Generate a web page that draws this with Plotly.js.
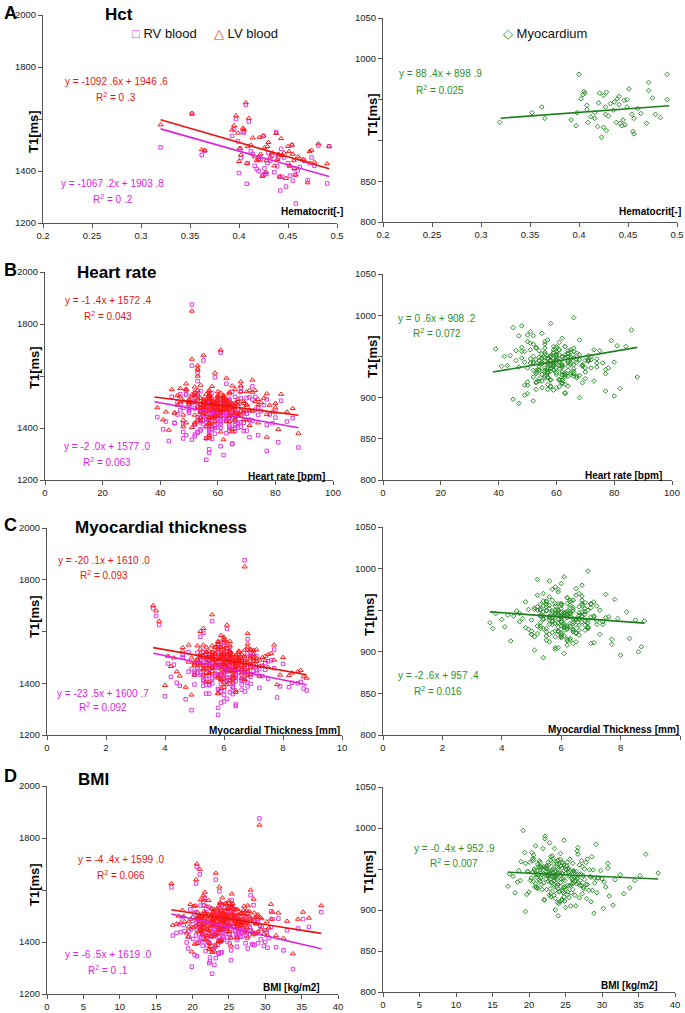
<!DOCTYPE html>
<html>
<head>
<meta charset="utf-8">
<script src="https://cdn.plot.ly/plotly-3.0.1.min.js"></script>
<style>
  html,body{margin:0;padding:0;background:#fff;}
  #chart{width:685px;height:1013px;}
</style>
</head>
<body>
<div id="chart"></div>
<script>
// ---------------- DATA ----------------
// Panel A (Hct) — blood T1 per subject
const hctX = [0.320,0.395,0.352,0.362,0.365,0.393,0.397,0.399,0.400,0.401,
  0.402,0.404,0.405,0.407,0.408,0.409,0.410,0.412,0.414,0.416,
  0.418,0.420,0.421,0.422,0.424,0.425,0.426,0.427,0.428,0.429,
  0.430,0.432,0.434,0.436,0.438,0.439,0.440,0.441,0.442,0.443,
  0.444,0.446,0.448,0.450,0.451,0.452,0.454,0.455,0.456,0.457,
  0.458,0.460,0.462,0.466,0.470,0.472,0.474,0.477,0.481,0.490,0.492];
const hctRV = [1491,1560,1620,1462,1478,1535,1600,1514,1392,1484,
  1450,1552,1548,1654,1351,1430,1590,1475,1465,1420,
  1408,1400,1455,1442,1385,1535,1410,1388,1390,1430,
  1470,1440,1460,1395,1550,1418,1452,1378,1325,1485,
  1378,1452,1340,1430,1420,1382,1500,1362,1410,1385,
  1275,1402,1415,1440,1365,1430,1452,1420,1498,1352,1495];
const hctLV = [1578,1575,1622,1482,1479,1558,1613,1546,1437,1488,
  1462,1565,1560,1663,1430,1494,1603,1500,1528,1455,
  1440,1445,1530,1465,1380,1535,1490,1395,1440,1495,
  1510,1455,1470,1420,1545,1445,1465,1462,1378,1525,
  1460,1470,1372,1495,1475,1420,1500,1465,1440,1410,
  1385,1455,1448,1445,1355,1475,1480,1435,1505,1428,1495];
// Panel A — myocardium
const hctMyoX = [0.319,0.352,0.362,0.365,0.392,0.397,0.400,0.398,0.402,0.404,
  0.406,0.408,0.408,0.409,0.412,0.416,0.419,0.420,0.421,0.423,
  0.425,0.425,0.427,0.427,0.428,0.428,0.435,0.436,0.438,0.439,
  0.441,0.442,0.444,0.446,0.449,0.451,0.449,0.454,0.455,0.456,
  0.460,0.469,0.471,0.471,0.475,0.478,0.490,0.490,
  0.405,0.430,0.445,0.447,0.456,0.441,0.432,0.416,0.463,0.483];
const hctMyo = [922,934,941,927,925,918,981,934,951,956,
  958,943,938,922,929,934,917,946,958,904,
  955,916,932,941,959,912,937,947,922,951,
  954,921,918,949,950,963,941,932,911,927,
  939,921,961,971,952,932,981,950,
  960,930,925,919,908,944,945,927,933,928];

// Panels B–D — the same subjects: T1 of RV blood, LV blood, myocardium
const rvT1 = [1462,1398,1515,1440,1480,1372,1530,1455,1420,1495,
  1350,1470,1445,1560,1410,1488,1435,1505,1390,1465,
  1520,1428,1475,1338,1452,1610,1418,1490,1460,1382,
  1500,1445,1405,1542,1468,1430,1312,1478,1512,1448,
  1395,1485,1458,1425,1580,1440,1472,1365,1498,1436,
  1875,1415,1462,1528,1388,1476,1450,1402,1640,1458,
  1433,1492,1325,1468,1510,1422,1380,1485,1448,1555,
  1472,1408,1438,1296,1502,1462,1420,1690,1455,1398,
  1482,1428,1518,1358,1466,1442,1500,1412,1278,1478,
  1450,1535,1392,1470,1425,1488,1345,1460,1415,1595,
  1438,1506,1472,1385,1455,1430,1520,1368,1490,1445,
  1410,1465,1625,1435,1480,1402,1458,1330,1512,1428,
  1470,1395,1448,1540,1418,1485,1440,1305,1462,1500,
  1425,1478,1360,1452,1570,1432,1468,1388,1495,1442,
  1455,1412,1488,1375,1436,1520,1400,1460,1660,1430,
  1448,1502,1415,1470,1388,1525,1460,1432,1495,1410,
  1478,1355,1442,1515,1465,1400,1488,1452,1540,1425,
  1395,1468,1508,1438,1372,1482,1455,1420,1500,1462,
  1530,1445,1405,1475,1490,1368,1458,1515,1435,1480,
  1412,1492,1450,1340,1472,1428,1505,1445,1390,1468,
  1485,1422,1462,1535,1400,1455,1318,1478,1442,1510,
  1458,1385,1498,1430,1468,1545,1415,1450,1485,1378,
  1440,1520,1402,1465,1432,1488,1460,1395,1472,1512,
  1375,1452,1480,1418,1505,1440,1468,1360,1495,1435,
  1465,1408,1438,1492,1456,1382,1518,1445,1422,1475];
const lvT1 = [1490,1435,1540,1478,1495,1420,1548,1498,1450,1520,
  1392,1505,1480,1585,1455,1510,1470,1530,1428,1490,
  1545,1470,1500,1385,1488,1625,1462,1512,1495,1418,
  1525,1482,1450,1565,1500,1468,1365,1505,1538,1478,
  1432,1510,1490,1462,1600,1478,1498,1410,1525,1470,
  1850,1455,1495,1550,1425,1505,1488,1440,1665,1490,
  1470,1520,1380,1500,1538,1460,1425,1512,1482,1578,
  1500,1448,1475,1355,1528,1495,1458,1700,1490,1440,
  1510,1465,1545,1405,1498,1478,1525,1452,1360,1505,
  1485,1560,1438,1502,1462,1515,1395,1492,1455,1612,
  1475,1532,1505,1430,1488,1468,1548,1415,1518,1480,
  1450,1498,1640,1472,1510,1445,1492,1385,1540,1465,
  1502,1440,1485,1562,1458,1512,1478,1362,1495,1528,
  1465,1508,1405,1488,1592,1470,1500,1432,1522,1480,
  1490,1450,1515,1420,1472,1548,1445,1495,1680,1468,
  1480,1525,1450,1505,1430,1545,1492,1470,1518,1455,
  1505,1402,1478,1540,1490,1445,1512,1488,1562,1468,
  1440,1495,1530,1470,1420,1508,1490,1462,1525,1495,
  1552,1478,1448,1500,1515,1415,1490,1538,1472,1510,
  1455,1515,1488,1395,1500,1465,1530,1482,1432,1498,
  1510,1465,1495,1558,1445,1488,1372,1505,1478,1532,
  1490,1430,1522,1468,1495,1570,1458,1485,1512,1425,
  1478,1545,1445,1498,1470,1512,1492,1440,1500,1535,
  1420,1488,1505,1460,1528,1475,1495,1405,1520,1470,
  1492,1452,1475,1515,1488,1428,1540,1480,1462,1502];
const myoT1 = [933,997,945,922,965,937,915,951,924,942,
  939,956,920,946,935,976,941,911,949,930,
  958,943,896,940,954,929,969,937,918,947,
  932,960,900,941,921,950,934,987,944,926,
  938,951,909,962,931,942,913,946,957,936,
  980,928,943,903,953,930,947,916,966,939,
  949,893,925,958,936,945,906,961,932,952,
  919,940,982,927,942,956,898,935,923,948,
  972,937,951,914,928,959,946,908,955,933,
  942,990,924,938,950,917,963,941,926,944,
  934,954,912,948,936,978,929,943,949,921,
  939,957,946,905,931,943,968,922,937,950,
  920,939,953,927,985,941,902,947,930,958,
  944,915,960,936,952,925,975,940,948,910,
  955,933,942,970,918,951,938,962,928,945,
  941,928,956,935,948,919,962,944,931,950,
  925,947,938,970,933,952,910,945,958,936,
  949,932,918,960,943,927,953,939,965,921,
  937,955,944,912,950,930,946,975,928,942,
  958,923,940,947,905,953,936,962,931,948,
  933,946,967,925,942,914,951,938,957,929,
  944,960,930,949,922,956,940,913,947,934,
  926,941,952,936,968,931,945,920,954,939,
  950,916,943,958,935,947,928,961,940,924,
  939,948,921,944,957,933,950,926,943,962];
const heartRate = [59,66,70,61,56,74,49,58,67,51,
  43,60,55,72,66,50,57,82,54,63,
  73,61,52,65,59,53,79,62,69,57,
  57,66,68,54,62,58,77,48,64,56,
  41,67,59,84,53,65,58,71,46,60,
  51,55,80,49,64,60,74,57,51,62,
  65,47,88,59,72,54,63,53,58,68,
  50,59,86,62,52,66,45,61,70,57,
  62,54,71,58,63,39,60,77,56,64,
  64,58,57,69,42,62,81,55,67,59,
  54,64,60,48,70,55,66,52,62,58,
  59,75,53,63,56,67,50,61,57,72,
  73,58,55,68,45,60,80,57,65,51,
  61,50,56,78,63,57,47,69,60,53,
  65,52,76,57,62,44,64,59,55,71,
  55,62,48,58,66,53,60,71,57,64,
  63,51,59,68,54,61,57,46,65,58,
  58,66,53,60,49,63,56,69,52,61,
  47,59,64,55,62,57,67,52,60,74,
  61,54,58,65,50,60,56,63,70,55,
  56,68,61,52,59,64,57,62,54,77,
  60,53,57,63,58,49,66,61,55,59,
  64,57,60,50,56,62,58,54,67,61,
  52,63,55,61,57,59,65,48,62,56,
  59,56,62,58,64,53,60,66,57,63];
const thickness = [5.7,6.9,6.8,5.2,6.2,8.8,7.7,4.9,6.4,5.6,
  4.0,6.7,6.0,5.9,5.3,6.5,5.8,7.1,4.5,6.1,
  6.2,5.4,8.0,4.7,6.6,6.1,7.5,5.7,5.1,6.3,
  6.5,4.8,8.6,6.0,7.3,5.5,6.4,5.2,5.9,6.8,
  5.0,5.9,7.7,6.4,5.2,6.7,4.3,6.2,7.0,5.7,
  6.7,5.3,7.1,5.8,6.3,4.1,6.1,8.3,5.6,6.5,
  6.4,5.4,5.9,7.0,4.6,6.2,8.7,5.5,6.8,6.0,
  5.5,6.4,6.0,4.9,7.0,5.6,6.1,3.6,6.5,5.9,
  5.9,7.2,5.1,6.3,5.4,6.8,4.6,6.2,5.8,7.4,
  7.1,6.1,5.5,6.9,6.9,6.0,7.8,5.7,6.6,5.3,
  6.3,5.2,5.6,8.2,6.4,5.8,4.8,6.7,6.2,5.0,
  6.6,5.3,3.8,5.9,6.1,4.4,6.5,6.0,5.7,7.3,
  6.0,5.4,7.0,6.2,5.6,7.5,5.1,5.8,6.9,6.7,
  4.2,6.2,5.5,7.4,6.8,5.0,5.9,7.9,5.4,6.4,
  7.2,6.1,7.6,6.6,6.0,5.3,8.5,6.3,3.7,5.8,
  6.2,5.5,6.3,5.9,6.8,6.1,5.7,6.6,6.0,5.3,
  5.9,6.0,6.5,5.4,6.1,5.6,7.0,6.3,5.8,6.7,
  5.5,6.6,5.8,7.1,6.0,6.4,5.1,5.9,6.2,5.6,
  6.8,5.4,6.1,6.5,5.2,5.9,6.3,5.7,6.9,6.0,
  5.9,5.7,6.6,6.1,5.8,6.4,6.0,6.7,5.3,6.2,
  5.6,6.1,6.7,5.8,6.3,5.5,6.4,5.6,6.0,6.9,
  6.1,6.3,6.2,5.7,6.5,6.0,5.4,6.2,6.6,5.8,
  6.4,5.6,6.8,6.0,5.2,6.3,5.8,6.6,5.5,6.1,
  5.8,6.3,5.3,6.0,6.9,5.7,6.2,5.4,6.5,5.9,
  6.0,6.7,5.0,6.2,5.5,7.2,5.9,6.1,5.6,6.4];
const bmi = [26.1,19.2,37.7,24.1,28.6,22.9,25.5,22.4,23.6,27.4,
  20.3,23.8,33.0,25.4,21.5,26.7,17.8,24.9,28.3,23.4,
  24.6,21.8,28.9,23.2,25.2,17.1,24.3,31.8,22.8,26.1,
  25.9,20.6,23.6,28.4,18.1,25.0,23.0,22.2,27.1,24.0,
  22.3,25.4,23.9,20.5,28.0,22.6,24.5,21.8,26.0,23.5,
  29.2,30.5,21.2,25.0,22.0,27.2,19.8,24.8,23.2,29.5,
  28.8,24.0,22.4,27.8,20.2,24.2,31.5,23.0,26.5,21.5,
  25.2,21.0,22.8,33.8,25.6,23.4,19.5,20.6,24.6,20.8,
  26.6,21.4,30.8,23.6,24.9,18.9,26.2,24.1,22.7,29.0,
  24.3,22.2,28.2,24.7,22.5,31.0,20.6,23.1,27.5,23.7,
  18.4,24.4,22.1,29.8,27.0,20.9,23.8,32.5,21.6,25.8,
  29.4,24.6,20.5,26.4,24.0,21.3,36.0,25.3,27.6,23.3,
  23.0,29.0,27.3,21.1,24.8,23.7,30.2,19.9,25.7,22.6,
  17.3,26.9,23.9,34.5,21.7,26.0,23.5,28.5,18.6,24.2,
  24.8,22.0,35.2,19.4,26.3,24.5,30.0,23.3,21.0,25.1,
  22.5,24.8,21.2,26.3,23.1,19.7,25.6,22.9,27.8,24.0,
  21.8,23.6,25.9,20.4,24.3,22.2,28.5,23.9,21.5,26.0,
  25.1,20.9,23.4,27.2,22.6,24.7,21.3,26.6,23.0,29.3,
  23.8,26.9,22.0,24.5,20.7,25.3,23.3,21.9,27.5,22.8,
  20.1,24.2,26.4,22.4,25.7,21.6,24.9,28.0,23.5,21.1,
  26.8,22.7,20.6,25.0,23.7,27.9,22.3,24.4,19.5,25.5,
  24.6,21.4,27.0,23.2,20.0,24.1,26.2,22.1,25.8,30.3,
  22.9,25.4,23.9,18.8,26.7,21.7,24.5,27.3,22.4,23.6,
  27.6,23.0,21.0,25.2,22.7,26.5,20.8,24.0,23.4,28.7,
  21.6,26.1,24.7,22.8,30.8,23.1,25.3,21.2,26.9,24.3];

// Regression lines (end points)
const hctFitX = [0.32, 0.492];   const hctLvFit = [1597, 1409]; const hctRvFit = [1562, 1379]; const hctMyoFit = [927.2, 942.4];
const hrFitX = [38, 88];         const hrLvFit = [1519, 1449];  const hrRvFit = [1501, 1401];  const hrMyoFit = [931, 961];
const thFitX = [3.6, 8.8];       const thLvFit = [1537.6, 1433]; const thRvFit = [1516, 1394]; const thMyoFit = [948, 934.5];
const bmiFitX = [17.1, 37.7];    const bmiLvFit = [1523.8, 1433.1]; const bmiRvFit = [1507.9, 1374]; const bmiMyoFit = [946.1, 937.8];

// Text
const panelLetters = ['A','B','C','D'];
const panelTitles = ['Hct','Heart rate','Myocardial thickness','BMI'];
const xTitles = ['Hematocrit[-]','Heart rate [bpm]','Myocardial Thickness [mm]','BMI [kg/m2]'];
const lvEq = ['y = -1092 .6x + 1946 .6','y = -1 .4x + 1572 .4','y = -20 .1x + 1610 .0','y = -4 .4x + 1599 .0'];
const lvR2 = ['0 .3','0.043','0.093','0.066'];
const rvEq = ['y = -1067 .2x + 1903 .8','y = -2 .0x + 1577 .0','y = -23 .5x + 1600 .7','y = -6 .5x + 1619 .0'];
const rvR2 = ['0 .2','0.063','0.092','0 .1'];
const myoEq = ['y = 88 .4x + 898 .9','y = 0 .6x + 908 .2','y = -2 .6x + 957 .4','y = -0 .4x + 952 .9'];
const myoR2 = ['0.025','0.072','0.016','0.007'];
const xTickVals = [[0.2,0.25,0.3,0.35,0.4,0.45,0.5],[0,20,40,60,80,100],[0,2,4,6,8,10],[0,5,10,15,20,25,30,35,40]];
const xTickText = [['0.2','0.25','0.3','0.35','0.4','0.45','0.5'],['0','20','40','60','80','100'],['0','2','4','6','8','10'],['0','5','10','15','20','25','30','35','40']];
const xRanges = [[0.2,0.5],[0,100],[0,10],[0,40]];
const bloodTickVals = [1200,1400,1600,1800,2000];
const bloodTickText = ['1200','1400','','1800','2000'];
const myoTickVals = [800,850,900,950,1000,1050];
const myoTickTextA = ['800','850','','','1000','1050'];
const myoTickText = ['800','850','900','','1000','1050'];

// ---------------- STYLE / LAYOUT ----------------
const W = 685, H = 1013;
const C_RV = '#e23de2', C_LV = '#ff1a1a', C_LVLINE = '#e8140f', C_RVLINE = '#dd22dd', C_MYO = '#2b8f2b', C_MYOLINE = '#1f7f1f';
const FONT = 'Liberation Sans, Arial, Helvetica, sans-serif';

// pixel boxes [left, right, top, bottom]
const boxes = [
  [43,337,15,223],[383,677,18,222],
  [45,333,272,480],[383,672,274,480],
  [47,342,528,735],[383,680,527,735],
  [47,338,786,994],[383,675,787,992]
];

const panelX = [hctX, heartRate, thickness, bmi];
const panelFitX = [hctFitX, hrFitX, thFitX, bmiFitX];
const panelLvFit = [hctLvFit, hrLvFit, thLvFit, bmiLvFit];
const panelRvFit = [hctRvFit, hrRvFit, thRvFit, bmiRvFit];
const panelMyoFit = [hctMyoFit, hrMyoFit, thMyoFit, bmiMyoFit];

const traces = [];
const layout = {
  width: W, height: H, margin: {l:0,r:0,t:0,b:0},
  paper_bgcolor: '#fff', plot_bgcolor: '#fff', showlegend: false,
  font: {family: FONT, color: '#111'},
  annotations: []
};

function ax(i){ return i===0 ? '' : String(i+1); }

for (let p = 0; p < 4; p++) {
  for (let side = 0; side < 2; side++) {
    const i = p*2 + side;
    const b = boxes[i];
    const xa = 'x' + ax(i), ya = 'y' + ax(i);
    const common = {
      showline: true, linecolor: '#555', linewidth: 1, ticks: 'outside', ticklen: 4, tickcolor: '#555',
      showgrid: false, zeroline: false, tickfont: {family: FONT, size: 9.5, color: '#222'}, fixedrange: true
    };
    layout['xaxis' + ax(i)] = Object.assign({}, common, {
      domain: [b[0]/W, b[1]/W], range: xRanges[p], tickmode: 'array',
      tickvals: xTickVals[p], ticktext: xTickText[p], anchor: 'y' + ax(i)
    });
    layout['yaxis' + ax(i)] = Object.assign({}, common, {
      domain: [1 - b[3]/H, 1 - b[2]/H], anchor: 'x' + ax(i), tickmode: 'array',
      range: side === 0 ? [1200, 2000] : [800, 1050],
      tickvals: side === 0 ? bloodTickVals : myoTickVals,
      ticktext: side === 0 ? bloodTickText : (p === 0 ? myoTickTextA : myoTickText)
    });

    if (side === 0) {
      const xs = p === 0 ? hctX : panelX[p];
      const rv = p === 0 ? hctRV : rvT1;
      const lv = p === 0 ? hctLV : lvT1;
      traces.push({type:'scatter', mode:'markers', x: xs, y: rv, xaxis: xa, yaxis: ya,
        marker:{symbol:'square-open', size:3.5, color:C_RV, line:{width:1, color:C_RV}}, hoverinfo:'skip'});
      traces.push({type:'scatter', mode:'markers', x: xs, y: lv, xaxis: xa, yaxis: ya,
        marker:{symbol:'triangle-up-open', size:4.5, color:C_LV, line:{width:1, color:C_LV}}, hoverinfo:'skip'});
      traces.push({type:'scatter', mode:'lines', x: panelFitX[p], y: panelLvFit[p], xaxis: xa, yaxis: ya,
        line:{color:C_LVLINE, width:1.6}, hoverinfo:'skip'});
      traces.push({type:'scatter', mode:'lines', x: panelFitX[p], y: panelRvFit[p], xaxis: xa, yaxis: ya,
        line:{color:C_RVLINE, width:1.6}, hoverinfo:'skip'});
    } else {
      const xs = p === 0 ? hctMyoX : panelX[p];
      const my = p === 0 ? hctMyo : myoT1;
      traces.push({type:'scatter', mode:'markers', x: xs, y: my, xaxis: xa, yaxis: ya,
        marker:{symbol:'diamond-open', size:3.5, color:C_MYO, line:{width:1, color:C_MYO}}, hoverinfo:'skip'});
      traces.push({type:'scatter', mode:'lines', x: panelFitX[p], y: panelMyoFit[p], xaxis: xa, yaxis: ya,
        line:{color:C_MYOLINE, width:1.6}, hoverinfo:'skip'});
    }
  }
}

// annotation helper in pixel coordinates
function A(px, py, text, o) {
  o = o || {};
  layout.annotations.push({
    xref:'paper', yref:'paper', x: px/W, y: 1 - py/H, text: text, showarrow:false,
    xanchor: o.xa || 'center', yanchor: o.ya || 'middle', textangle: o.angle || 0,
    font: {family: FONT, size: o.size || 10, color: o.color || '#111'}
  });
}

// panel letters & titles
const letterY = [13, 270, 525, 776];
const titleX = [103, 75, 73, 76];
const titleY = [15, 272, 527, 779];
for (let p = 0; p < 4; p++) {
  A(10, letterY[p], '<b>' + panelLetters[p] + '</b>', {size: 18, color:'#000'});
  A(titleX[p], titleY[p], '<b>' + panelTitles[p] + '</b>', {xa:'left', size: 17, color:'#000'});
}

// y axis titles
const yTitlePos = [[34,132],[372,115],[34,368],[372,357],[34,617],[369,615],[34,885],[368,872]];
yTitlePos.forEach(q => A(q[0], q[1], '<b>T1[ms]</b>', {angle:-90, size: 13, color:'#000'}));

// x axis titles (inside plot, bottom-right)
const xTitlePos = [[345,212],[683,212],[327,476],[664,475],[342,730],[681,729],[322,987],[660,985]];
for (let p = 0; p < 4; p++) {
  A(xTitlePos[p*2][0], xTitlePos[p*2][1], '<b>' + xTitles[p] + '</b>', {xa:'right', size: 10, color:'#000'});
  A(xTitlePos[p*2+1][0], xTitlePos[p*2+1][1], '<b>' + xTitles[p] + '</b>', {xa:'right', size: 10, color:'#000'});
}

// equations
const lvEqPos = [[116,81,97],[108,300,316],[104,560,575],[121,859,875]];
const rvEqPos = [[113,183,199],[107,446,462],[103,693,707],[108,954,970]];
const myoEqPos = [[440,73,90],[437,318,333],[438,675,691],[454,848,863]];
for (let p = 0; p < 4; p++) {
  A(lvEqPos[p][0], lvEqPos[p][1], lvEq[p], {color: C_LVLINE});
  A(lvEqPos[p][0], lvEqPos[p][2], 'R<sup>2</sup> = ' + lvR2[p], {color: C_LVLINE});
  A(rvEqPos[p][0], rvEqPos[p][1], rvEq[p], {color: C_RVLINE});
  A(rvEqPos[p][0], rvEqPos[p][2], 'R<sup>2</sup> = ' + rvR2[p], {color: C_RVLINE});
  A(myoEqPos[p][0], myoEqPos[p][1], myoEq[p], {color: C_MYO});
  A(myoEqPos[p][0], myoEqPos[p][2], 'R<sup>2</sup> = ' + myoR2[p], {color: C_MYO});
}

// legends
A(130, 33, '<span style="color:' + C_RV + '">□</span> RV blood', {xa:'left', size: 13, color:'#111'});
A(212, 33, '<span style="color:' + C_LV + '">△</span> LV blood', {xa:'left', size: 13, color:'#111'});
A(501, 33, '<span style="color:' + C_MYO + '">◇</span> Myocardium', {xa:'left', size: 13, color:'#111'});

Plotly.newPlot('chart', traces, layout, {staticPlot: true, displayModeBar: false});
</script>
</body>
</html>
